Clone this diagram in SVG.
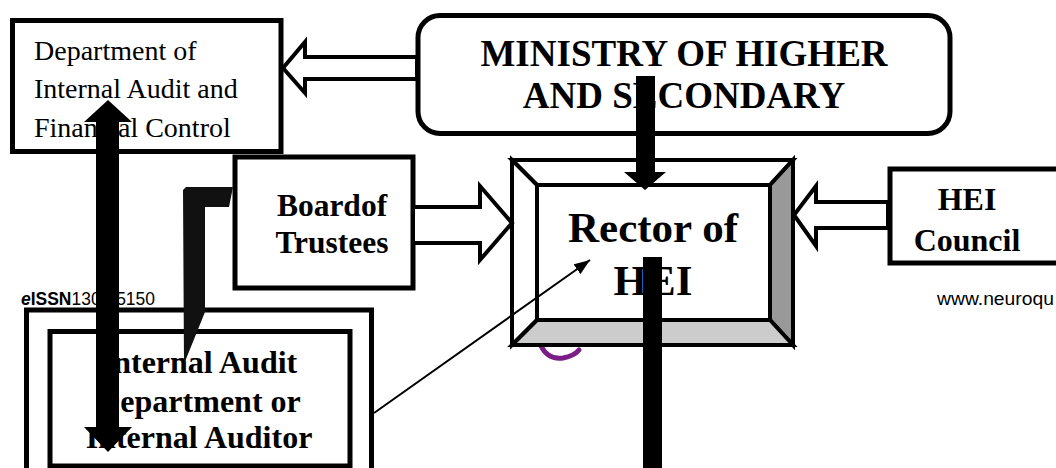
<svg xmlns="http://www.w3.org/2000/svg" width="1056" height="468" viewBox="0 0 1056 468">
<style>
.box{fill:#fff;stroke:#000;stroke-width:5}
.tr{font-family:"Liberation Serif","Times New Roman",serif;fill:#000}
.b{font-weight:bold;text-anchor:middle}
.hollow{fill:#fff;stroke:#000;stroke-width:4;stroke-linejoin:miter}
.solid{fill:#000;stroke:none}
.hdr{font-family:"Liberation Sans",Arial,sans-serif;font-size:18px;fill:#000}
</style>
<defs>
<marker id="ah" markerUnits="userSpaceOnUse" markerWidth="18" markerHeight="14" refX="16" refY="6" orient="auto">
<path d="M0,0 L16,6 L0,12 z" fill="#000"/>
</marker>
</defs>
<rect width="1056" height="468" fill="#fff"/>

<!-- page header remnants -->
<text class="hdr" x="21" y="305" textLength="134" lengthAdjust="spacingAndGlyphs"><tspan font-style="italic" font-weight="bold">e</tspan><tspan font-weight="bold">ISSN</tspan>1303-5150</text>
<text class="hdr" x="937" y="305" textLength="117" lengthAdjust="spacingAndGlyphs">www.neuroqu</text>
<path d="M541,346 Q548,360 563,358 Q574,356 579,350" fill="none" stroke="#7a1d86" stroke-width="5" stroke-linecap="round"/>

<g id="node-dept">
<rect class="box" x="12.5" y="20.5" width="268.5" height="131"/>
<text class="tr" font-size="28" x="34" y="60">Department of</text>
<text class="tr" font-size="28" x="34" y="98">Internal Audit and</text>
<text class="tr" font-size="28" x="34" y="137">Financial Control</text>
</g>

<g id="node-ministry">
<rect class="box" x="418" y="15.5" width="532" height="118" rx="22" ry="22" stroke-width="4.5"/>
<text class="tr b" font-size="37" x="684" y="66">MINISTRY OF HIGHER</text>
<text class="tr b" font-size="37" x="684" y="108">AND SECONDARY</text>
</g>

<g id="node-board">
<rect class="box" x="235" y="157" width="178" height="131"/>
<text class="tr b" font-size="31.5" x="332" y="216">Boardof</text>
<text class="tr b" font-size="31.5" x="332" y="253">Trustees</text>
</g>

<g id="node-rector">
<rect x="512" y="160" width="281" height="185" fill="#fff"/>
<polygon points="512,160 793,160 770,185 537,185" fill="#fff" stroke="#000" stroke-width="4"/>
<polygon points="512,160 537,185 537,320 512,345" fill="#fff" stroke="#000" stroke-width="4"/>
<polygon points="793,160 793,345 770,320 770,185" fill="#999" stroke="#000" stroke-width="4"/>
<polygon points="512,345 793,345 770,320 537,320" fill="#ccc" stroke="#000" stroke-width="4"/>
<rect x="537" y="185" width="233" height="135" fill="#fff" stroke="#000" stroke-width="4"/>
<text class="tr b" font-size="43" x="653" y="242">Rector of</text>
<text class="tr b" font-size="43" x="653" y="295">HEI</text>
</g>

<g id="node-council">
<rect class="box" x="890" y="169" width="220" height="94"/>
<text class="tr b" font-size="32" x="967" y="210">HEI</text>
<text class="tr b" font-size="32" x="967" y="251">Council</text>
</g>

<g id="node-internal">
<rect class="box" x="26.5" y="310" width="345" height="200" stroke-width="6"/>
<rect class="box" x="50" y="331.5" width="300" height="134.5" stroke-width="6"/>
<text class="tr b" font-size="32" x="199" y="373">Internal Audit</text>
<text class="tr b" font-size="32" x="199" y="412">Department or</text>
<text class="tr b" font-size="32" x="199" y="448">Internal Auditor</text>
</g>

<g id="connectors">
<!-- Ministry -> Department (hollow) -->
<polygon class="hollow" points="417,57 305,57 305,42 283,68 305,93 305,79 417,79"/>
<!-- Ministry -> Rector (solid) -->
<polygon class="solid" points="636,76 655,76 655,172 666,172 645,190 624,172 636,172"/>
<!-- Board -> Rector (hollow) -->
<polygon class="hollow" points="413,207 480,207 480,186 512,223 480,260 480,243 413,243"/>
<!-- Council -> Rector (hollow) -->
<polygon class="hollow" points="888,202 816,202 816,186 794,215 816,246 816,228 888,228"/>
<!-- Board -> Internal audit (wedge) -->
<polygon points="233,187 186,187 183,190 184,364 205,312 205,207 229,207" fill="#111"/>
<!-- Department <-> Internal audit -->
<polygon class="solid" points="108,100 132,122 119,122 119,427 132,427 108,452 84,427 96,427 96,122 84,122"/>
<!-- Internal audit -> Rector (thin) -->
<line x1="374" y1="413" x2="590" y2="260" stroke="#000" stroke-width="2" marker-end="url(#ah)"/>
<!-- Rector downward -->
<rect class="solid" x="643" y="257" width="19" height="211"/>
</g>
</svg>
